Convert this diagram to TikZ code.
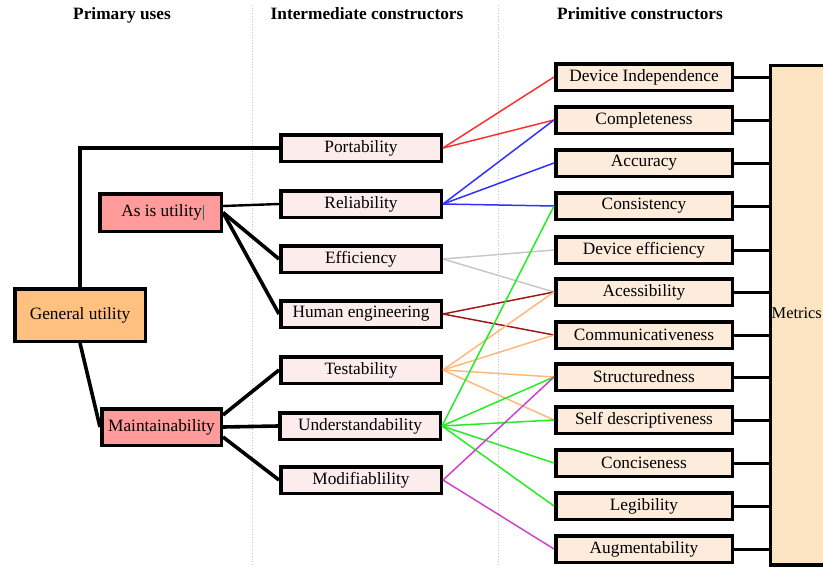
\documentclass[tikz,border=0pt]{standalone}
\usepackage{fontspec}
\setmainfont{Liberation Serif}
\definecolor{gufill}{HTML}{FFC080}
\definecolor{redfill}{HTML}{FF9B9B}
\definecolor{interfill}{HTML}{FDECEC}
\definecolor{primfill}{HTML}{FDEBDB}
\definecolor{metfill}{HTML}{FCE4C2}
\definecolor{cred}{HTML}{FF3030}
\definecolor{cblue}{HTML}{3030FF}
\definecolor{cgray}{HTML}{C8C8C8}
\definecolor{cdred}{HTML}{9E1A1A}
\definecolor{corange}{HTML}{FFB878}
\definecolor{cgreen}{HTML}{22EE22}
\definecolor{cpurple}{HTML}{CC44CC}
\definecolor{cursorc}{HTML}{1F6F6F}
\begin{document}
\begin{tikzpicture}[x=1pt,y=-1pt,
  font=\fontsize{17.3}{20}\selectfont,
  box/.style={draw, line width=3.5pt, inner sep=0pt, rectangle},
  ibox/.style={box, fill=interfill, minimum width=160.5pt, minimum height=26.5pt},
  pbox/.style={box, fill=primfill, minimum width=176.5pt, minimum height=26.5pt},
  head/.style={font=\fontsize{17.3}{20}\selectfont\bfseries, inner sep=0pt},
  sepline/.style={dotted, gray!45, line width=0.7pt},
  blk/.style={line width=3.6pt},
  blkthin/.style={line width=2.4pt},
  metline/.style={line width=3pt},
  cline/.style={line width=1.5pt}]
\useasboundingbox (0,0) rectangle (823,566);
\clip (0,0) rectangle (823,566);

% column separators
\draw[sepline] (252,5) -- (252,566);
\draw[sepline] (498,5) -- (498,566);

% headers
\node[head] (h1) at (122,15) {Primary uses};
\node[head] (h2) at (367,14) {Intermediate constructors};
\node[head] (h3) at (640,14) {Primitive constructors};

% primary
\node[box, fill=gufill, minimum width=130.5pt, minimum height=52.5pt] (gu) at (80,315) {General utility};
\node[box, fill=redfill, minimum width=121.5pt, minimum height=37.5pt] (au) at (160.5,212.5) {\hspace*{4pt}As is utility\hspace{1pt}\textcolor{cursorc}{\rule[-3pt]{0.7pt}{15pt}}};
\node[box, fill=redfill, minimum width=119.5pt, minimum height=36.5pt] (mt) at (161.5,427) {Maintainability};

% intermediate
\node[ibox] (port) at (361,148) {Portability};
\node[ibox] (rel)  at (361,204) {Reliability};
\node[ibox] (eff)  at (361,259) {Efficiency};
\node[ibox] (hum)  at (361,314) {Human engineering};
\node[ibox] (test) at (361,370) {Testability};
\node[ibox] (und)  at (360,426) {Understandability};
\node[ibox] (mod)  at (361,480) {Modifiablility};

% primitive
\node[pbox] (p1)  at (644,77)  {Device Independence};
\node[pbox] (p2)  at (644,120) {Completeness};
\node[pbox] (p3)  at (644,163) {Accuracy};
\node[pbox] (p4)  at (644,206) {Consistency};
\node[pbox] (p5)  at (644,250) {Device efficiency};
\node[pbox] (p6)  at (644,292) {Acessibility};
\node[pbox] (p7)  at (644,335) {Communicativeness};
\node[pbox] (p8)  at (644,377) {Structuredness};
\node[pbox] (p9)  at (644,420) {Self descriptiveness};
\node[pbox] (p10) at (644,463) {Conciseness};
\node[pbox] (p11) at (644,506) {Legibility};
\node[pbox] (p12) at (644,549) {Augmentability};

% metrics
\node[box, fill=metfill, minimum width=100pt, minimum height=499.5pt, anchor=north west] (met) at (768.75,63.75) {};
\node[inner sep=0pt, anchor=west, font=\fontsize{16.4}{19}\selectfont] (mettxt) at (771.5,313) {Metrics};

% black connectors
\draw[blk] (gu.north) |- (port.west);
\draw[blk] (gu.south) -- (mt.west);
\draw[blkthin] ([yshift=6.5pt]au.east) -- (rel.west);
\draw[blk] (au.east) -- (eff.west);
\draw[blk] (au.east) -- (hum.west);
\draw[blk] ([yshift=12pt]mt.east) -- (test.west);
\draw[blk] (mt.east) -- (und.west);
\draw[blk] ([yshift=-10pt]mt.east) -- (mod.west);

\foreach \p in {p1,p2,p3,p4,p5,p6,p7,p8,p9,p10,p11,p12}
  \draw[metline] (\p.east) -- (\p.east -| met.west);

% coloured connectors
\draw[cline, cred] (port.east) -- (p1.west);
\draw[cline, cred] (port.east) -- (p2.west);
\draw[cline, cblue] (rel.east) -- (p2.west);
\draw[cline, cblue] (rel.east) -- (p3.west);
\draw[cline, cblue] (rel.east) -- (p4.west);
\draw[cline, cgray] (eff.east) -- (p5.west);
\draw[cline, cgray] (eff.east) -- (p6.west);
\draw[cline, cdred] (hum.east) -- (p6.west);
\draw[cline, cdred] (hum.east) -- (p7.west);
\draw[cline, corange] (test.east) -- (p6.west);
\draw[cline, corange] (test.east) -- (p7.west);
\draw[cline, corange] (test.east) -- (p8.west);
\draw[cline, corange] (test.east) -- (p9.west);
\draw[cline, cgreen] (und.east) -- (p4.west);
\draw[cline, cgreen] (und.east) -- (p8.west);
\draw[cline, cgreen] (und.east) -- (p9.west);
\draw[cline, cgreen] (und.east) -- (p10.west);
\draw[cline, cgreen] (und.east) -- (p11.west);
\draw[cline, cpurple] (mod.east) -- (p8.west);
\draw[cline, cpurple] (mod.east) -- (p12.west);
\end{tikzpicture}
\end{document}
